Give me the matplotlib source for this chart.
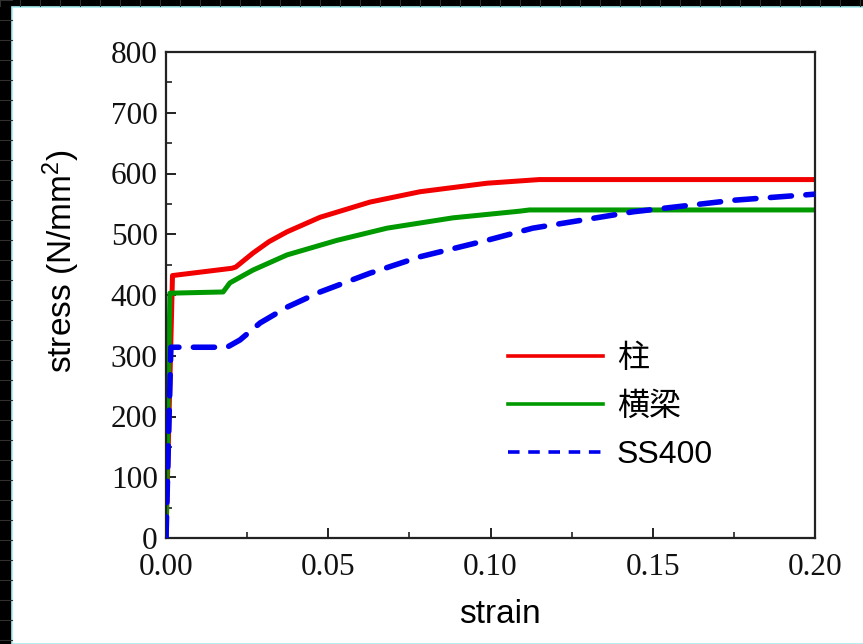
import matplotlib
matplotlib.use("Agg")
import matplotlib.pyplot as plt
from matplotlib.lines import Line2D
from matplotlib.patches import Rectangle
from matplotlib.ticker import MultipleLocator

# --- 応力-ひずみ関係 (N/mm^2) ---
col_strain = [0, 0.002, 0.0203, 0.0215, 0.0268, 0.0318, 0.0373, 0.0475, 0.0629, 0.0783, 0.0989, 0.115, 0.2]
col_stress = [0, 432, 444, 446, 469, 488, 504, 528, 553, 570, 584, 590, 590]

beam_strain = [0, 0.0012, 0.0176, 0.0197, 0.0268, 0.0373, 0.0527, 0.0681, 0.0884, 0.109, 0.112, 0.2]
beam_stress = [0, 403, 405, 420, 441, 466, 490, 510, 527, 538, 540, 540]

ss_strain = [0, 0.0015, 0.0188, 0.0228, 0.029, 0.0373, 0.0475, 0.0629, 0.0783, 0.0989, 0.113, 0.144, 0.175, 0.2]
ss_stress = [0, 314, 314, 326, 354, 380, 405, 436, 463, 490, 510, 537, 556, 566]

labels = ["柱", "横梁", "SS400"]
xticks = [0.00, 0.05, 0.10, 0.15, 0.20]
yticks = [0, 100, 200, 300, 400, 500, 600, 700, 800]

RED = "#f20000"
GREEN = "#009a00"
BLUE = "#0000f0"

plt.rcParams["mathtext.fontset"] = "custom"
plt.rcParams["mathtext.rm"] = "Liberation Sans"
plt.rcParams["mathtext.it"] = "Liberation Sans"

W, H = 863, 644
fig = plt.figure(figsize=(W / 100, H / 100), dpi=100, facecolor="black")

# 背景: 黒い枠 + 白いパネル
for yy in range(0, H, 20):
    fig.add_artist(Line2D([0, 12 / W], [1 - yy / H, 1 - yy / H], color="#303030", lw=0.8))
for xx in range(0, W, 20):
    fig.add_artist(Line2D([xx / W, xx / W], [1 - 6 / H, 1], color="#303030", lw=0.8))
fig.add_artist(Rectangle((12 / W, 0), 1, 1 - 7 / H, transform=fig.transFigure,
                         facecolor="white", edgecolor="#a8ecf0", lw=1.2, zorder=0))

ax = fig.add_axes([166 / W, 1 - 538 / H, (815 - 166) / W, (538 - 52) / H])
ax.set_facecolor("none")

ax.plot(col_strain, col_stress, color=RED, lw=3.6, solid_joinstyle="round")
ax.plot(beam_strain, beam_stress, color=GREEN, lw=3.6, solid_joinstyle="round")
ax.plot(ss_strain, ss_stress, color=BLUE, lw=4.0, dashes=(3.8, 2.6),
        dash_capstyle="round", zorder=3)

ax.set_xlim(0, 0.2)
ax.set_ylim(0, 800)
ax.set_xticks(xticks)
ax.set_yticks(yticks)
ax.set_xticklabels([f"{v:.2f}" for v in xticks])
ax.xaxis.set_minor_locator(MultipleLocator(0.025))
ax.yaxis.set_minor_locator(MultipleLocator(50))
ax.tick_params(which="both", direction="in", top=False, right=False, color="#222222")
ax.tick_params(which="major", length=7, width=1.4)
ax.tick_params(which="minor", length=4.5, width=1.2)
ax.tick_params(axis="y", pad=6)
ax.tick_params(axis="x", pad=11)
for lab in ax.get_xticklabels() + ax.get_yticklabels():
    lab.set_fontfamily("Liberation Serif")
    lab.set_fontsize(22.5)
    lab.set_color("#111111")
for sp in ax.spines.values():
    sp.set_linewidth(1.6)
    sp.set_color("#222222")

ax.set_xlabel("strain", fontsize=24, family="Liberation Sans")
ax.xaxis.set_label_coords(0.515, -0.125)
ax.set_ylabel("stress (N/mm$^{2}$)", fontsize=24, family="Liberation Sans")
ax.yaxis.set_label_coords(-0.13, 0.57)

# 凡例 (線を短めの破線で表示)
handles = [
    Line2D([], [], color=RED, lw=2.6),
    Line2D([], [], color=GREEN, lw=2.6),
    Line2D([], [], color=BLUE, lw=2.6, dashes=(3.2, 2.4)),
]
ax.legend(handles, labels, loc="upper left", bbox_to_anchor=(0.503, 0.432),
          frameon=False, handlelength=2.95, handletextpad=0.45, labelspacing=0.56,
          borderpad=0, prop={"family": ["Liberation Sans", "Noto Sans CJK JP"], "size": 23})

fig.savefig("out.png", dpi=100, facecolor=fig.get_facecolor())
